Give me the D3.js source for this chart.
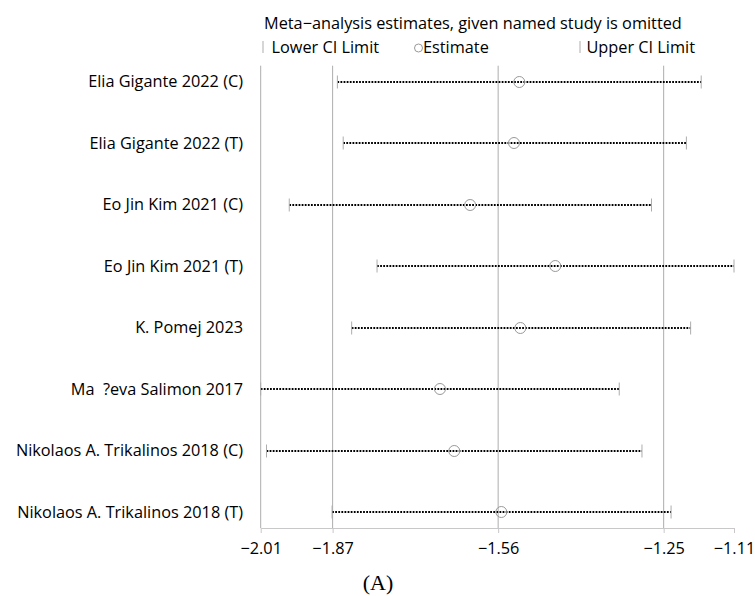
<!DOCTYPE html>
<html>
<head>
<meta charset="utf-8">
<script src="https://cdn.jsdelivr.net/npm/d3@7"></script>
<style>
  body { margin: 0; background: #fff; }
  svg { display: block; }
  text { font-family: "Open Sans", "Noto Sans", sans-serif; fill: #000; }
</style>
</head>
<body>
<svg id="chart" width="755" height="596"></svg>
<script>
// ---- data ----
const studies = [
  "Elia Gigante 2022 (C)",
  "Elia Gigante 2022 (T)",
  "Eo Jin Kim 2021 (C)",
  "Eo Jin Kim 2021 (T)",
  "K. Pomej 2023",
  "Ma  ?eva Salimon 2017",
  "Nikolaos A. Trikalinos 2018 (C)",
  "Nikolaos A. Trikalinos 2018 (T)"
];
const lowerCI  = [-1.864, -1.853, -1.955, -1.789, -1.837, -2.009, -1.998, -1.874];
const estimate = [-1.520, -1.530, -1.613, -1.452, -1.518, -1.670, -1.643, -1.554];
const upperCI  = [-1.176, -1.204, -1.270, -1.114, -1.196, -1.331, -1.288, -1.233];
// axis extremes and overall estimate with its CI (reference lines)
const tickValues = [-2.009, -1.873, -1.560, -1.247, -1.114];
const refLines   = [-2.009, -1.873, -1.560, -1.247];
const title = "Meta\u2212analysis estimates, given named study is omitted";
const legendLabels = ["Lower CI Limit", "Estimate", "Upper CI Limit"];
const panelLabel = "(A)";

// ---- layout ----
const svg = d3.select("#chart");
const FS = 16.3;
const x = d3.scaleLinear()
  .domain([d3.min(tickValues), d3.max(tickValues)])
  .range([260.7, 734]);
const y = d3.scalePoint().domain(studies).range([81.5, 512]);
const yr = d => Math.round(y(d));
const axisY = 528;
const topY = 65.7;
const grey = "#adadad";

// reference vertical lines
svg.append("g").selectAll("line").data(refLines).join("line")
  .attr("x1", d => x(d)).attr("x2", d => x(d))
  .attr("y1", topY).attr("y2", axisY)
  .attr("stroke", grey).attr("stroke-width", 1);

// axis
const fmt = d => d3.format(".2f")(d).replace("-", "\u2212");
const axis = d3.axisBottom(x).tickValues(tickValues).tickFormat(fmt).tickSize(5).tickSizeOuter(0);
const gAxis = svg.append("g").attr("transform", `translate(0,${axisY})`).call(axis);
gAxis.select(".domain").attr("stroke", "#c8c8c8");
gAxis.selectAll(".tick line").attr("stroke", "#c8c8c8");
gAxis.selectAll(".tick text").attr("font-size", FS).attr("dy", "1.1em")
  .attr("font-family", "'Open Sans', sans-serif").attr("fill", "#000");

const rows = studies.map((s, i) => ({ s, lo: lowerCI[i], est: estimate[i], hi: upperCI[i] }));

// dotted CI lines
svg.append("g").selectAll("line").data(rows).join("line")
  .attr("x1", d => x(d.lo)).attr("x2", d => x(d.hi))
  .attr("y1", d => yr(d.s)).attr("y2", d => yr(d.s))
  .attr("stroke", "#000").attr("stroke-width", 2)
  .attr("stroke-dasharray", "1.8,1.3");

// CI end ticks
const ends = svg.append("g");
ends.selectAll("line.lo").data(rows).join("line").attr("class", "lo")
  .attr("x1", d => x(d.lo)).attr("x2", d => x(d.lo))
  .attr("y1", d => yr(d.s) - 6.5).attr("y2", d => yr(d.s) + 6.5)
  .attr("stroke", grey).attr("stroke-width", 1);
ends.selectAll("line.hi").data(rows).join("line").attr("class", "hi")
  .attr("x1", d => x(d.hi)).attr("x2", d => x(d.hi))
  .attr("y1", d => yr(d.s) - 6.5).attr("y2", d => yr(d.s) + 6.5)
  .attr("stroke", grey).attr("stroke-width", 1);

// estimate circles
svg.append("g").selectAll("circle").data(rows).join("circle")
  .attr("cx", d => x(d.est)).attr("cy", d => yr(d.s)).attr("r", 5.5)
  .attr("fill", "none").attr("stroke", "#999").attr("stroke-width", 1);

// study labels
svg.append("g").selectAll("text").data(studies).join("text")
  .attr("x", 243).attr("y", d => y(d)).attr("dy", "0.35em")
  .attr("text-anchor", "end").attr("font-size", FS)
  .style("white-space", "pre")
  .text(d => d);

// title & legend
svg.append("text").attr("x", 264).attr("y", 23).attr("dy", "0.35em")
  .attr("font-size", FS).text(title);
const legY = 47;
svg.append("line").attr("x1", 263).attr("x2", 263).attr("y1", legY - 6).attr("y2", legY + 6)
  .attr("stroke", grey);
svg.append("text").attr("x", 271.5).attr("y", legY).attr("dy", "0.35em").attr("font-size", FS).text(legendLabels[0]);
svg.append("circle").attr("cx", 418.5).attr("cy", legY + 1).attr("r", 4)
  .attr("fill", "none").attr("stroke", "#999");
svg.append("text").attr("x", 423).attr("y", legY).attr("dy", "0.35em").attr("font-size", FS).text(legendLabels[1]);
svg.append("line").attr("x1", 580).attr("x2", 580).attr("y1", legY - 6).attr("y2", legY + 6)
  .attr("stroke", grey);
svg.append("text").attr("x", 586.5).attr("y", legY).attr("dy", "0.35em").attr("font-size", FS).text(legendLabels[2]);

// panel label
svg.append("text").attr("x", 378).attr("y", 590)
  .attr("text-anchor", "middle").attr("font-size", 22)
  .style("font-family", "'Liberation Serif', 'DejaVu Serif', serif")
  .text(panelLabel);
</script>
</body>
</html>
